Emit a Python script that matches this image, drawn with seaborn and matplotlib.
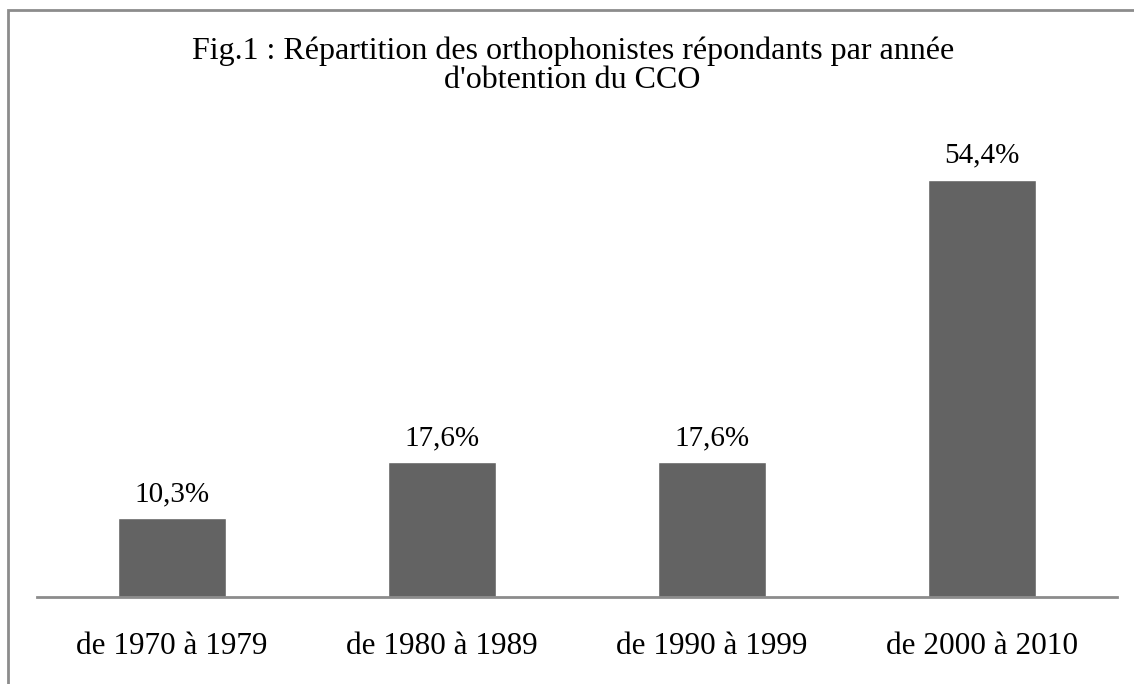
import matplotlib
matplotlib.use("Agg")
import matplotlib.pyplot as plt
import seaborn as sns
import pandas as pd
from matplotlib.patches import Rectangle

categories = ["de 1970 à 1979", "de 1980 à 1989", "de 1990 à 1999", "de 2000 à 2010"]
values = [10.3, 17.6, 17.6, 54.4]
value_labels = ["10,3%", "17,6%", "17,6%", "54,4%"]
title = "Fig.1 : Répartition des orthophonistes répondants par année\nd'obtention du CCO"

sns.set_theme(style="white")
plt.rcParams["font.family"] = ["Liberation Serif", "DejaVu Serif"]

df = pd.DataFrame({"periode": categories, "pct": values})

W, H = 1134, 684
fig = plt.figure(figsize=(W / 100, H / 100), dpi=100)
# axes: x from 37 to 1117 px, baseline at y=597, top at y=137 (ylim 0-60)
ax = fig.add_axes([37 / W, (H - 597) / H, 1080 / W, 460 / H])

sns.barplot(data=df, x="periode", y="pct", color="#636363", width=0.4,
            saturation=1, ax=ax)
ax.set_xlim(-0.5, 3.5)
ax.set_ylim(0, 60)

for i, (v, lab) in enumerate(zip(values, value_labels)):
    ax.annotate(lab, (i, v), xytext=(0, 8), textcoords="offset points",
                ha="center", va="bottom", fontsize=21, color="#000000")

ax.set_xlabel("")
ax.set_ylabel("")
ax.set_yticks([])
ax.tick_params(axis="x", length=0, pad=25, labelsize=22.5, labelcolor="#000000")
for s in ["top", "right", "left"]:
    ax.spines[s].set_visible(False)
ax.spines["bottom"].set_color("#8c8c8c")
ax.spines["bottom"].set_linewidth(2)

fig.text(0.505, 1 - 66 / H, title, ha="center", va="center", fontsize=23,
         color="#000000", linespacing=1.0)

# outer chart frame (cut off at right and bottom)
fig.patches.append(Rectangle((8 / W, -0.1), 1.2, (H - 10) / H + 0.1,
                             transform=fig.transFigure, fill=False,
                             edgecolor="#8c8c8c", linewidth=2))

fig.savefig("out.png", dpi=100, facecolor="white")
